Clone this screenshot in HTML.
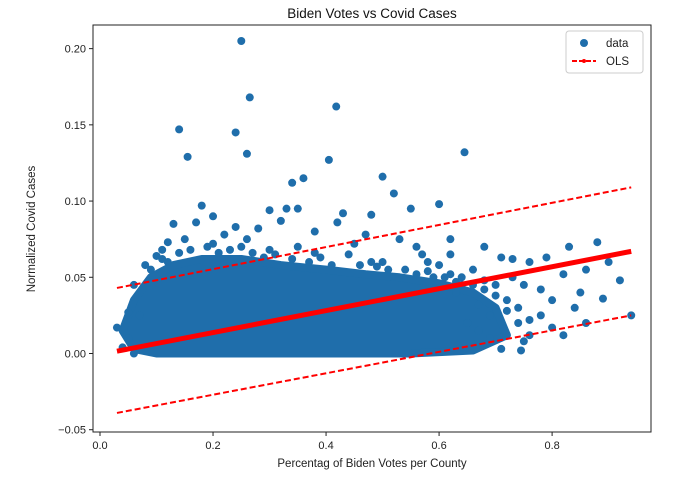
<!DOCTYPE html>
<html><head><meta charset="utf-8"><style>
body{margin:0;background:#fff;}
svg{font-family:"Liberation Sans","DejaVu Sans",sans-serif;}
</style></head><body>
<svg id="chart" width="677" height="483" viewBox="0 0 677 483">
<text x="372" y="18" text-anchor="middle" font-size="13.5" fill="#111">Biden Votes vs Covid Cases</text>
<g id="plot"></g>
</svg>
<script>
const xTicks=[0.0,0.2,0.4,0.6,0.8];
const xTickLabels=["0.0","0.2","0.4","0.6","0.8"];
const yTicks=[-0.05,0.00,0.05,0.10,0.15,0.20];
const yTickLabels=["−0.05","0.00","0.05","0.10","0.15","0.20"];
const blobX=[0.04,0.06,0.09,0.13,0.18,0.25,0.32,0.40,0.47,0.53,0.60,0.66,0.70,0.72,0.66,0.55,0.30,0.10,0.06];
const blobY=[0.015,0.035,0.05,0.058,0.062,0.062,0.058,0.055,0.052,0.05,0.046,0.04,0.03,0.012,0.002,0.0,0.0,0.0,0.003];
const ptX=[0.25,0.265,0.418,0.14,0.24,0.155,0.26,0.405,0.645,0.34,0.36,0.5,0.52,0.48,0.33,0.35,0.3,0.32,0.18,0.43,0.55,0.6,0.17,0.13,0.2,0.42,0.28,0.24,0.12,0.11,0.38,0.47,0.53,0.56,0.58,0.6,0.62,0.62,0.68,0.71,0.73,0.76,0.79,0.88,0.83,0.92,0.85,0.82,0.86,0.7,0.72,0.74,0.76,0.78,0.8,0.84,0.86,0.89,0.94,0.8,0.78,0.75,0.68,0.66,0.64,0.71,0.745,0.69,0.03,0.05,0.06,0.08,0.1,0.15,0.22,0.26,0.35,0.44,0.5,0.54,0.63,0.67,0.65,0.04,0.06,0.57,0.45,0.3,0.9,0.82,0.73,
0.09,0.11,0.14,0.16,0.19,0.21,0.23,0.27,0.29,0.31,0.34,0.37,0.39,0.41,0.46,0.49,0.51,0.56,0.59,0.62,0.64,0.68,0.7,0.72,0.74,0.76,0.69,0.67,0.63,0.75,0.05,0.07,0.12,0.2,0.25,0.38,0.48,0.58,0.61,0.66];
const ptY=[0.205,0.168,0.162,0.147,0.145,0.129,0.131,0.127,0.132,0.112,0.115,0.116,0.105,0.091,0.095,0.095,0.094,0.087,0.097,0.092,0.095,0.098,0.086,0.085,0.09,0.086,0.082,0.083,0.073,0.068,0.08,0.078,0.075,0.07,0.06,0.058,0.065,0.075,0.07,0.063,0.062,0.06,0.063,0.073,0.07,0.048,0.04,0.052,0.055,0.045,0.035,0.03,0.022,0.025,0.017,0.03,0.02,0.036,0.025,0.035,0.042,0.045,0.048,0.055,0.05,0.003,0.002,0.01,0.017,0.027,0.045,0.058,0.064,0.075,0.078,0.075,0.07,0.065,0.06,0.055,0.04,0.015,0.02,0.004,0.0,0.065,0.072,0.068,0.06,0.012,0.05,
0.055,0.062,0.066,0.068,0.07,0.066,0.068,0.066,0.063,0.065,0.062,0.06,0.063,0.058,0.058,0.057,0.055,0.052,0.05,0.052,0.045,0.042,0.038,0.028,0.02,0.012,0.025,0.032,0.047,0.008,0.01,0.025,0.06,0.072,0.07,0.066,0.06,0.054,0.05,0.045];
const olsX=[0.03,0.94];
const olsY=[0.0015,0.067];
const upperY=[0.043,0.109];
const lowerY=[-0.039,0.025];

const L=93,R=651,T=25,B=432;
const xMin=-0.0124,xMax=0.975,yMin=-0.0515,yMax=0.2155;
const sx=v=>L+(v-xMin)/(xMax-xMin)*(R-L);
const sy=v=>B-(v-yMin)/(yMax-yMin)*(B-T);
const NS="http://www.w3.org/2000/svg";
const plot=document.getElementById('plot');
function mk(tag,attrs,parent){const e=document.createElementNS(NS,tag);for(const k in attrs)e.setAttribute(k,attrs[k]);(parent||plot).appendChild(e);return e;}
const C="#1f6eab";
const bp=blobX.map((x,i)=>sx(x)+","+sy(blobY[i])).join(" ");
const blob=mk('polygon',{points:bp,fill:C,stroke:C,'stroke-width':8,'stroke-linejoin':'round'});


ptX.forEach((x,i)=>{
 const c=mk('circle',{cx:sx(x),cy:sy(ptY[i]),r:4,fill:C});
 
 
});
function line(ys,dash,w,name){
 const l=mk('line',{x1:sx(olsX[0]),y1:sy(ys[0]),x2:sx(olsX[1]),y2:sy(ys[1]),stroke:'#ff0000','stroke-width':w,'stroke-dasharray':dash});
 
 
}
line(olsY,'none',5,'ols-fit-line');
line(upperY,'6,3',2,'upper-prediction-band');
line(lowerY,'6,3',2,'lower-prediction-band');
const fr=mk('rect',{x:L,y:T,width:R-L,height:B-T,fill:'none',stroke:'#222','stroke-width':1});


xTicks.forEach((t,i)=>{
 const x=sx(t);
 const tk=mk('line',{x1:x,y1:B,x2:x,y2:B+4,stroke:'#222'});
 
 
 const tx=mk('text',{x:x,y:B+17,'text-anchor':'middle','font-size':11,fill:'#222'});
 tx.textContent=xTickLabels[i];
 
 
});
yTicks.forEach((t,i)=>{
 const y=sy(t);
 const tk=mk('line',{x1:L-4,y1:y,x2:L,y2:y,stroke:'#222'});
 
 
 const tx=mk('text',{x:L-7,y:y+4,'text-anchor':'end','font-size':11,fill:'#222'});
 tx.textContent=yTickLabels[i];
 
 
});
const xl=mk('text',{x:372,y:467,'text-anchor':'middle','font-size':11.5,fill:'#222'});
xl.textContent="Percentag of Biden Votes per County";


const yl=mk('text',{x:0,y:0,transform:'translate(35,229) rotate(-90)','text-anchor':'middle','font-size':11.5,fill:'#222'});
yl.textContent="Normalized Covid Cases";


const lg=mk('g',{});


mk('rect',{x:566,y:31,width:77,height:42,rx:3,fill:'#fff','fill-opacity':0.85,stroke:'#ccc'},lg);
const ld=mk('circle',{cx:584,cy:43,r:4,fill:C},lg);


const t1=mk('text',{x:606,y:47,'font-size':11.5,fill:'#222'},lg);
t1.textContent="data";


const ll=mk('line',{x1:572,y1:61,x2:596,y2:61,stroke:'#f00','stroke-width':2,'stroke-dasharray':'5,2'},lg);


mk('circle',{cx:584,cy:61,r:2,fill:'#f00'},lg);
const t2=mk('text',{x:606,y:65,'font-size':11.5,fill:'#222'},lg);
t2.textContent="OLS";


</script>
</body></html>
